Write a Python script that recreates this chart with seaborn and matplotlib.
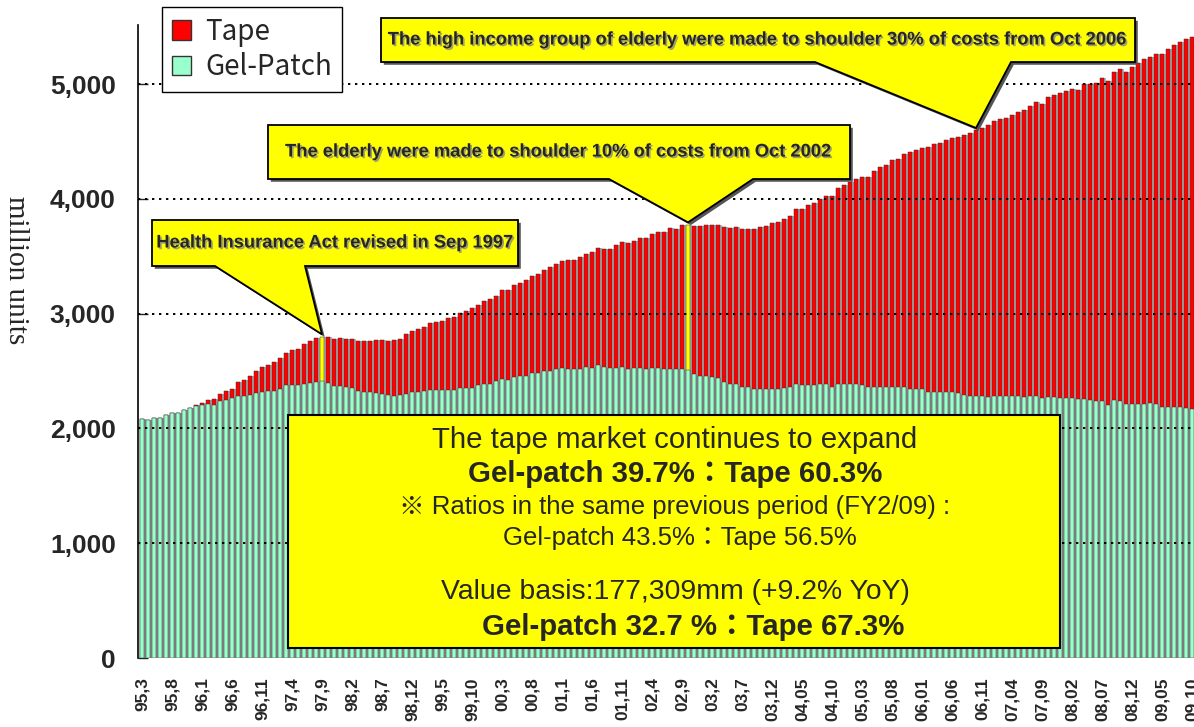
import matplotlib
matplotlib.use("Agg")
import matplotlib.pyplot as plt
import matplotlib.patheffects as pe
from matplotlib.patches import Patch, Polygon, Rectangle
from matplotlib.transforms import ScaledTranslation
import pandas as pd
import seaborn as sns

# Valeurs (millions d'unites), un point par mois de 95,3 a 09,10
total = [2079, 2070, 2090, 2090, 2114, 2134, 2134, 2157, 2180, 2200,
         2224, 2250, 2259, 2302, 2326, 2346, 2404, 2424, 2456, 2500,
         2535, 2552, 2578, 2616, 2657, 2680, 2692, 2732, 2759, 2790,
         2799, 2799, 2779, 2787, 2779, 2776, 2759, 2765, 2765, 2770,
         2770, 2759, 2770, 2775, 2822, 2846, 2869, 2881, 2915, 2924,
         2936, 2959, 2967, 3002, 3022, 3046, 3078, 3113, 3124, 3156,
         3203, 3203, 3247, 3267, 3293, 3325, 3345, 3380, 3403, 3432,
         3458, 3467, 3464, 3490, 3522, 3537, 3569, 3566, 3566, 3600,
         3621, 3612, 3632, 3656, 3656, 3691, 3708, 3708, 3743, 3740,
         3775, 3775, 3766, 3766, 3775, 3775, 3775, 3752, 3743, 3752,
         3734, 3740, 3740, 3752, 3763, 3786, 3798, 3821, 3853, 3908,
         3908, 3943, 3966, 4001, 4027, 4027, 4097, 4117, 4143, 4172,
         4193, 4193, 4240, 4274, 4297, 4341, 4349, 4393, 4405, 4428,
         4440, 4451, 4475, 4483, 4510, 4530, 4541, 4553, 4573, 4597,
         4617, 4640, 4675, 4695, 4707, 4727, 4753, 4771, 4806, 4840,
         4829, 4884, 4904, 4919, 4936, 4959, 4948, 4998, 4998, 5006,
         5050, 5026, 5102, 5128, 5105, 5148, 5180, 5215, 5238, 5261,
         5258, 5302, 5340, 5369, 5389, 5412]

gel = [2079, 2070, 2090, 2090, 2114, 2134, 2134, 2157, 2180, 2195,
       2204, 2212, 2201, 2236, 2245, 2265, 2282, 2282, 2291, 2308,
       2314, 2326, 2328, 2343, 2375, 2378, 2378, 2387, 2398, 2404,
       2410, 2398, 2369, 2366, 2360, 2349, 2323, 2320, 2320, 2311,
       2302, 2288, 2282, 2290, 2300, 2314, 2320, 2323, 2334, 2334,
       2334, 2334, 2334, 2355, 2355, 2355, 2378, 2390, 2390, 2413,
       2433, 2425, 2445, 2453, 2453, 2483, 2483, 2500, 2500, 2515,
       2523, 2518, 2515, 2515, 2532, 2523, 2550, 2537, 2523, 2523,
       2537, 2515, 2523, 2523, 2515, 2523, 2523, 2515, 2515, 2515,
       2515, 2510, 2477, 2456, 2456, 2445, 2436, 2407, 2387, 2387,
       2364, 2358, 2346, 2346, 2346, 2346, 2346, 2352, 2358, 2387,
       2378, 2378, 2378, 2387, 2387, 2364, 2387, 2387, 2387, 2387,
       2375, 2364, 2364, 2364, 2364, 2364, 2358, 2364, 2343, 2343,
       2343, 2320, 2320, 2318, 2318, 2318, 2306, 2295, 2285, 2285,
       2285, 2276, 2285, 2285, 2285, 2285, 2285, 2276, 2285, 2285,
       2265, 2276, 2276, 2265, 2265, 2262, 2256, 2256, 2245, 2236,
       2236, 2201, 2247, 2236, 2212, 2212, 2212, 2212, 2224, 2212,
       2189, 2189, 2189, 2189, 2178, 2168]

# Mois mis en evidence (revisions de l'assurance maladie)
highlight = ["1997-09", "2002-10"]

tick_labels = ["95,3", "95,8", "96,1", "96,6", "96,11", "97,4", "97,9", "98,2",
               "98,7", "98,12", "99,5", "99,10", "00,3", "00,8", "01,1", "01,6",
               "01,11", "02,4", "02,9", "03,2", "03,7", "03,12", "04,05", "04,10",
               "05,03", "05,08", "06,01", "06,06", "06,11", "07,04", "07,09", "08,02",
               "08,07", "08,12", "09,05", "09,10"]

yticks = [0, 1000, 2000, 3000, 4000, 5000]
ytick_labels = ["0", "1,000", "2,000", "3,000", "4,000", "5,000"]

RED = "#FF0000"
MINT = "#99FFCC"
YELLOW = "#FFFF00"

# Construction du dataframe
months = []
y, m = 1995, 3
for i in range(len(total)):
    months.append("%d-%02d" % (y, m))
    m += 1
    if m > 12:
        m = 1
        y += 1

df = pd.DataFrame({"idx": range(len(total)), "month": months, "total": total, "gel": gel})
df["kind"] = ["mark" if mo in highlight else "Tape" for mo in df["month"]]

sns.set_style("white")
plt.rcParams["font.family"] = ["Liberation Sans", "Noto Sans CJK JP", "DejaVu Sans"]

fig = plt.figure(figsize=(11.94, 7.27), dpi=100)
ax = fig.add_axes([138 / 1194, 69 / 727, 1056 / 1194, 633 / 727])

# ombre grise des barres
sns.barplot(data=df, x="idx", y="total", color="#b4b4b4", width=0.7, saturation=1,
            linewidth=0, ax=ax, zorder=1)
for p in ax.patches:
    p.set_x(p.get_x() + 0.25)

sns.barplot(data=df, x="idx", y="total", hue="kind", dodge=False, saturation=1,
            palette={"Tape": RED, "mark": YELLOW}, width=0.78,
            edgecolor="#333333", linewidth=0.35, legend=False, ax=ax, zorder=2)
sns.barplot(data=df, x="idx", y="gel", color=MINT, width=0.78, saturation=1,
            edgecolor="#333333", linewidth=0.35, ax=ax, zorder=3)

ax.set_xlim(-0.667, len(total) - 0.667)
ax.set_ylim(0, 5514)

for v in yticks[1:]:
    ax.axhline(v, color="black", linestyle=(0, (1.2, 2.4)), linewidth=1.4, zorder=4)

ax.set_xticks(range(0, len(total), 5))
ax.set_xticklabels(tick_labels, rotation=90, fontweight="bold", fontsize=12.5, va="top")
ax.tick_params(axis="x", length=0, pad=14)
ax.set_yticks(yticks)
ax.set_yticklabels(ytick_labels, fontweight="bold", fontsize=19)
ax.tick_params(axis="y", direction="in", length=7, width=1, pad=16, left=True)
ax.set_xlabel("")
ax.set_ylabel("million units", family="Liberation Serif", fontsize=21, rotation=270,
              va="bottom")
ax.yaxis.set_label_coords(-0.128, 0.613)

for s in ["top", "right", "bottom"]:
    ax.spines[s].set_visible(False)
ax.spines["left"].set_color("black")
ax.spines["left"].set_linewidth(1.2)


# conversion pixels de la figure -> coordonnees des donnees
def dx(px):
    return (px - 142) / 6.0


def dy(py):
    return (658 - py) * 5000 / 574


shadow = ax.transData + ScaledTranslation(2 / 72, -2 / 72, fig.dpi_scale_trans)


def callout(x0, x1, y0, y1, base_a, base_b, month, text):
    i = months.index(month)
    tip = (i, total[i] + 20)
    pts = [(dx(x0), dy(y1)), (dx(base_a), dy(y1)), tip, (dx(base_b), dy(y1)),
           (dx(x1), dy(y1)), (dx(x1), dy(y0)), (dx(x0), dy(y0))]
    ax.add_patch(Polygon(pts, closed=True, facecolor="#555555", edgecolor="none",
                         transform=shadow, zorder=6, clip_on=False))
    ax.add_patch(Polygon(pts, closed=True, facecolor=YELLOW, edgecolor="black",
                         linewidth=1.3, zorder=7, clip_on=False))
    ax.text(dx((x0 + x1) / 2), dy((y0 + y1) / 2), text, ha="center", va="center",
            fontsize=13.2, fontweight="bold", zorder=8,
            path_effects=[pe.withSimplePatchShadow(offset=(1.2, -1.2),
                                                   shadow_rgbFace="#888888", alpha=0.8)])


callout(152, 518, 220, 266, 215, 305, "1997-09", "Health Insurance Act revised in Sep 1997")
callout(268, 850, 125, 179, 609, 753, "2002-10",
        "The elderly were made to shoulder 10% of costs from Oct 2002")
callout(381, 1135, 18, 62, 815, 1011, "2006-10",
        "The high income group of elderly were made to shoulder 30% of costs from Oct 2006")

# encadre du bas
ax.add_patch(Rectangle((dx(288), dy(648)), dx(1060) - dx(288), dy(415) - dy(648),
                       facecolor=YELLOW, edgecolor="black", linewidth=1.5, zorder=7))
fam = ["Liberation Sans", "Noto Sans CJK JP"]
ax.text(dx(675), dy(440), "The tape market continues to expand", ha="center", va="center",
        fontsize=21.2, family=fam, zorder=8)
ax.text(dx(675), dy(474), "Gel-patch 39.7%\uff1aTape 60.3%", ha="center", va="center",
        fontsize=21.2, fontweight="bold", family=fam, zorder=8)
ax.text(dx(675), dy(507), "\u203b Ratios in the same previous period (FY2/09) :",
        ha="center", va="center", fontsize=18.5, family=fam, zorder=8)
ax.text(dx(680), dy(538), "Gel-patch 43.5%\uff1aTape 56.5%", ha="center", va="center",
        fontsize=18.5, family=fam, zorder=8)
ax.text(dx(675), dy(592), "Value basis:177,309mm (+9.2% YoY)", ha="center", va="center",
        fontsize=20.4, family=fam, zorder=8)
ax.text(dx(693), dy(627), "Gel-patch 32.7 %\uff1aTape 67.3%", ha="center", va="center",
        fontsize=21.2, fontweight="bold", family=fam, zorder=8)

# legende
handles = [Patch(facecolor=RED, edgecolor="#333333", label="Tape"),
           Patch(facecolor=MINT, edgecolor="#333333", label="Gel-Patch")]
leg = fig.legend(handles=handles, loc="upper left", bbox_to_anchor=(162 / 1194, 1 - 7 / 727),
                 borderaxespad=0, frameon=True, fancybox=False, edgecolor="black",
                 framealpha=1, prop={"family": "Noto Sans CJK JP", "size": 20},
                 handlelength=0.7, handleheight=0.7, handletextpad=0.5, borderpad=0.35,
                 labelspacing=0.2)
leg.get_frame().set_linewidth(1.0)
leg.set_zorder(10)

fig.savefig("out.png", dpi=100)
